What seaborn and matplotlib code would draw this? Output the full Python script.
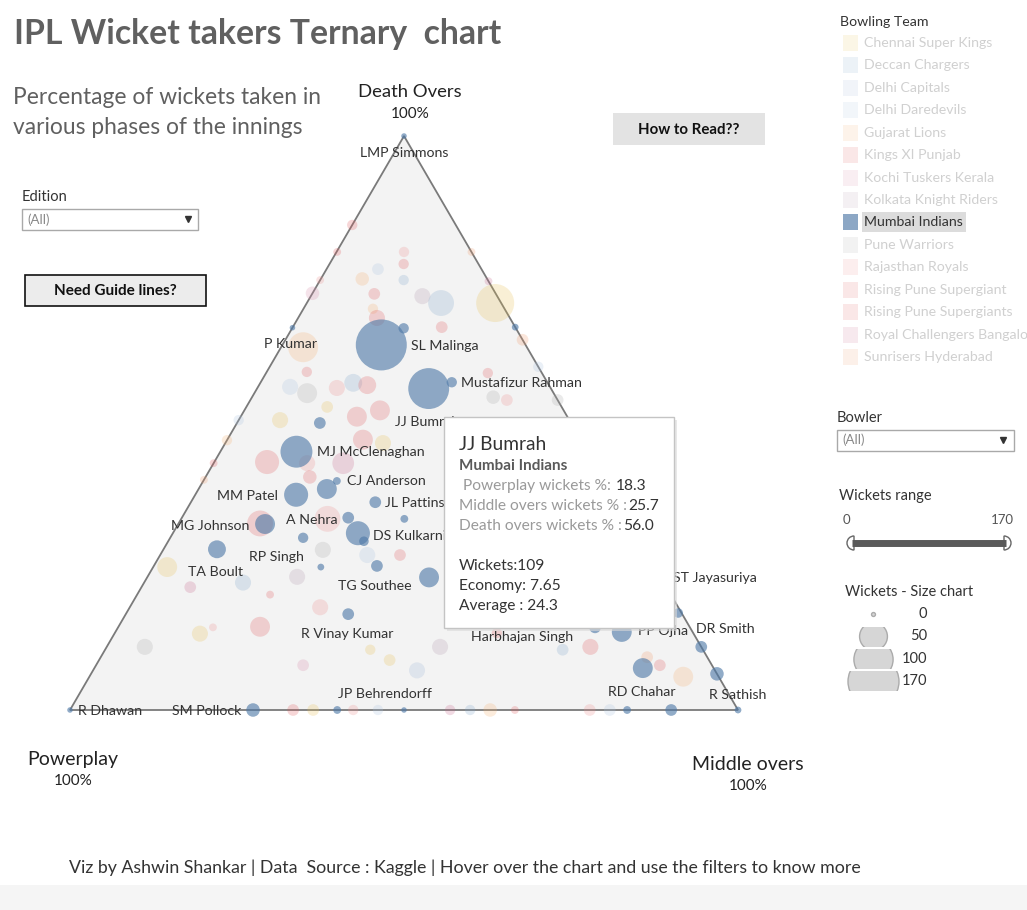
import numpy as np
import pandas as pd
import matplotlib
matplotlib.use("Agg")
import matplotlib.pyplot as plt
import seaborn as sns
from matplotlib.patches import Polygon, Rectangle, Wedge

sns.set_theme(style="white")
plt.rcParams['font.family'] = ['Lato', 'DejaVu Sans']

# ================================
# DATA
# ================================
teams = ['Chennai Super Kings', 'Deccan Chargers', 'Delhi Capitals', 'Delhi Daredevils',
         'Gujarat Lions', 'Kings XI Punjab', 'Kochi Tuskers Kerala', 'Kolkata Knight Riders',
         'Mumbai Indians', 'Pune Warriors', 'Rajasthan Royals', 'Rising Pune Supergiant',
         'Rising Pune Supergiants', 'Royal Challengers Bangalore', 'Sunrisers Hyderabad']
team_colors = ['#e8c050', '#7ea6cc', '#9fb6d6', '#a9c2e0',
               '#f5b070', '#e15759', '#d68aa8', '#b29aae',
               '#4e79a7', '#a8a8a8', '#ee8c8c', '#e15759',
               '#e15759', '#c8688c', '#f09a6a']

# Mumbai Indians bowlers (highlighted)
mi_bowler = ['LMP Simmons', 'SL Malinga', '', 'Mustafizur Rahman', 'JJ Bumrah', 'P Kumar', '', '',
             'MJ McClenaghan', '', 'CJ Anderson', 'MM Patel', 'JL Pattinson', '', 'MG Johnson',
             'A Nehra', 'RP Singh', 'DS Kulkarni', '', 'TA Boult', '', 'TG Southee', '',
             'R Vinay Kumar', 'Harbhajan Singh', '', 'PP Ojha', 'ST Jayasuriya', 'DR Smith',
             '', '', '', 'RD Chahar', '', 'R Sathish', 'JP Behrendorff', '', 'SM Pollock', 'R Dhawan']
mi_pp = [0, 21.6, 16.8, 14.3, 18.3, 33.4, 0, 37.6,
         43.6, 42.3, 40.1, 47.4, 36.2, 33.3, 54.6,
         41.6, 50.1, 41.5, 41.3, 64.0, 50.0, 41.5, 34.7,
         50.0, 22.3, 14.2, 10.6, 0, 0.5,
         0, 0, 10.6, 16.6, 10.0, 0, 60, 50, 72.6, 100]
mi_mid = [0, 14.8, 16.7, 28.6, 25.7, 0, 33.3, 12.4,
          11.4, 19.2, 20.0, 15.1, 27.6, 33.4, 13.0,
          24.9, 19.9, 27.7, 29.3, 8.0, 25.1, 33.4, 42.2,
          33.3, 57.7, 71.4, 75.8, 79.1, 82.6,
          89.0, 93.7, 82.1, 83.4, 90.0, 100, 40, 50, 27.4, 0]
mi_death = [100, 63.6, 66.5, 57.1, 56.0, 66.6, 66.7, 50.0,
            45.0, 38.5, 39.9, 37.5, 36.2, 33.3, 32.4,
            33.5, 30.0, 30.8, 29.4, 28.0, 24.9, 25.1, 23.1,
            16.7, 20.0, 14.4, 13.6, 20.9, 16.9,
            11.0, 6.3, 7.3, 0, 0, 0, 0, 0, 0, 0]
mi_wkts = [1, 170, 6, 6, 109, 1, 2, 8,
           66, 25, 3, 37, 8, 3, 25,
           8, 6, 37, 5, 20, 2, 8, 25,
           8, 127, 8, 25, 1, 5,
           8, 11, 25, 3, 8, 2, 3, 1, 11, 1]

# other teams (faded in the view)
oth_team = ['KXIP', 'RR', 'KXIP', 'DD', 'DC', 'GL', 'KXIP', 'KKR', 'DC', 'CSK',
            'SRH', 'RCB', 'KXIP', 'RR', 'KTK', 'GL', 'KXIP', 'GL', 'KXIP', 'DD',
            'PW', 'RR', 'DC', 'KXIP', 'CSK', 'RPS', 'KXIP', 'CSK', 'KXIP', 'RR',
            'RCB', 'KXIP', 'KXIP', 'CSK', 'DD', 'GL', 'KXIP', 'SRH', 'KXIP', 'PW',
            'CSK', 'RR', 'CSK', 'RCB', 'DC', 'KXIP', 'KKR', 'RR', 'PW', 'KTK',
            'DCap', 'CSK', 'CSK', 'KKR', 'KXIP', 'RR', 'DD', 'KXIP', 'KXIP', 'CSK',
            'RR', 'DD', 'RCB', 'DC', 'GL', 'KXIP', 'RR', 'DD', 'KXIP', 'DC',
            'KXIP', 'SRH', 'KXIP', 'GL', 'PW', 'RR', 'KXIP', 'KXIP', 'SRH', 'DD', 'PW']
oth_pp = [15.5, 10.1, 11.2, 15.5, 12.6, 18.7, 18.2, 11.2, 9.0, 0.9,
          0, 0, 20.1, 25.1, 27.4, 19.7, 19.9, 33.5, 35.1, 38.9,
          36.9, 32.0, 29.1, 27.2, 35.1, 31.5, 27.5, 43.3, 48.9, 43.0,
          37.6, 43.8, 32.6, 29.9, 49.5, 53.0, 57.0, 59.9, 64.3, 83.3,
          73.9, 71.4, 73.0, 71.3, 63.0, 60.0, 54.4, 53.6, 48.2, 61.2,
          44.6, 47.8, 49.8, 39.1, 55.3, 44.8, 42.0, 37.1, 66.6, 63.6,
          57.6, 53.9, 43.1, 40.1, 37.1, 33.4, 22.2, 19.2, 29.4, 21.0,
          16.6, 9.0, 7.8, 5.3, 9.4, 7.6, 8.1, 11.0, 0, 0, 0]
oth_mid = [0, 10.1, 11.1, 7.7, 12.5, 6.2, 9.3, 16.7, 20.1, 28.2,
           20.2, 25.3, 0.1, 0, 0, 10.4, 11.8, 3.3, 6.0, 4.8,
           7.9, 11.9, 13.9, 16.2, 12.1, 17.4, 20.3, 6.2, 7.9, 14.0,
           19.4, 15.6, 20.3, 23.6, 0, 0, 0, 0, 21.2, 5.7,
           12.8, 14.2, 2.1, 7.3, 14.8, 19.9, 22.4, 28.5, 23.9, 31.0,
           48.5, 43.5, 39.7, 49.9, 12.2, 21.9, 31.0, 35.9, 33.4, 36.4,
           42.4, 46.1, 56.9, 59.9, 62.9, 66.6, 77.8, 80.8, 57.2, 68.5,
           72.4, 81.8, 84.4, 88.9, 36.1, 38.4, 33.2, 22.3, 35.5, 40.2, 46.0]
oth_death = [84.5, 79.8, 77.7, 76.8, 74.9, 75.1, 72.5, 72.1, 70.9, 70.9,
             79.8, 74.7, 79.8, 74.9, 72.6, 69.9, 68.3, 63.2, 58.9, 56.3,
             55.2, 56.1, 57.0, 56.6, 52.8, 51.1, 52.2, 50.5, 43.2, 43.0,
             43.0, 40.6, 47.1, 46.5, 50.5, 47.0, 43.0, 40.1, 14.5, 11.0,
             13.3, 14.4, 24.9, 21.4, 22.2, 20.1, 23.2, 17.9, 27.9, 7.8,
             6.9, 8.7, 10.5, 11.0, 32.5, 33.3, 27.0, 27.0, 0, 0,
             0, 0, 0, 0, 0, 0, 0, 0, 13.4, 10.5,
             11.0, 9.2, 7.8, 5.8, 54.5, 54.0, 58.7, 66.7, 64.5, 59.8, 54.0]
oth_wkts = [6, 6, 6, 8, 6, 11, 8, 16, 43, 94,
            3, 3, 3, 3, 11, 6, 16, 58, 6, 16,
            25, 16, 20, 20, 8, 25, 25, 16, 37, 16,
            30, 11, 25, 16, 6, 6, 3, 3, 25, 16,
            16, 3, 25, 8, 16, 3, 16, 16, 16, 8,
            16, 8, 6, 16, 43, 43, 16, 8, 8, 8,
            6, 6, 6, 6, 11, 3, 8, 8, 6, 8,
            16, 8, 8, 25, 11, 8, 6, 8, 8, 6, 8]

team_code = {'CSK': 'Chennai Super Kings', 'DC': 'Deccan Chargers', 'DCap': 'Delhi Capitals',
             'DD': 'Delhi Daredevils', 'GL': 'Gujarat Lions', 'KXIP': 'Kings XI Punjab',
             'KTK': 'Kochi Tuskers Kerala', 'KKR': 'Kolkata Knight Riders', 'PW': 'Pune Warriors',
             'RR': 'Rajasthan Royals', 'RPS': 'Rising Pune Supergiant',
             'RCB': 'Royal Challengers Bangalore', 'SRH': 'Sunrisers Hyderabad'}

# tooltip (hovered bowler)
tip_name = 'JJ Bumrah'
tip_team = 'Mumbai Indians'
tip_rows = [(' Powerplay wickets %: ', '18.3'), ('Middle overs wickets % :', '25.7'),
            ('Death overs wickets % :', '56.0')]
tip_stats = ['Wickets:109', 'Economy: 7.65', 'Average : 24.3']

size_legend = [0, 50, 100, 170]

# label placement (pixels from the mark, y down)
label_pos = {
    'LMP Simmons': (0, 17, 'center'), 'SL Malinga': (30, 1, 'left'),
    'Mustafizur Rahman': (9, 1, 'left'), 'JJ Bumrah': (-34, 33, 'left'),
    'P Kumar': (-2, 16, 'center'), 'MJ McClenaghan': (21, 0, 'left'),
    'CJ Anderson': (10, 0, 'left'), 'MM Patel': (-18, 1, 'right'),
    'JL Pattinson': (10, 1, 'left'), 'MG Johnson': (-16, 2, 'right'),
    'A Nehra': (-11, 2, 'right'), 'RP Singh': (-27, 19, 'center'),
    'DS Kulkarni': (15, 3, 'left'), 'TA Boult': (-1, 23, 'center'),
    'TG Southee': (-2, 20, 'center'), 'R Vinay Kumar': (-1, 20, 'center'),
    'Harbhajan Singh': (0, 42, 'center'), 'PP Ojha': (16, -1, 'left'),
    'ST Jayasuriya': (5, -12, 'left'), 'DR Smith': (18, 16, 'left'),
    'RD Chahar': (15, -18, 'center'), 'R Sathish': (0, -15, 'center'),
    'JP Behrendorff': (48, -16, 'center'), 'SM Pollock': (-12, 1, 'right'),
    'R Dhawan': (8, 1, 'left'),
}

palette = dict(zip(teams, team_colors))
S_MIN, S_MAX = 8, 1348


def ternary(pp, mid, death):
    pp, mid, death = (np.asarray(v, float) / 100 for v in (pp, mid, death))
    return mid + death / 2, death


mi = pd.DataFrame({'bowler': mi_bowler, 'team': 'Mumbai Indians', 'wickets': mi_wkts})
mi['x'], mi['y'] = ternary(mi_pp, mi_mid, mi_death)
oth = pd.DataFrame({'team': [team_code[t] for t in oth_team], 'wickets': oth_wkts})
oth['x'], oth['y'] = ternary(oth_pp, oth_mid, oth_death)

# ================================
# FIGURE
# ================================
fig = plt.figure(figsize=(10.27, 9.10), dpi=100)
fig.patch.set_facecolor('white')

ax = fig.add_axes([3.2 / 1027, (910 - 767.4) / 910, 801.6 / 1027, 688.8 / 910], zorder=1)
ax.set_xlim(-0.1, 1.1)
ax.set_ylim(-0.1, 1.1)
ax.axis('off')
ax.add_patch(Polygon([(0, 0), (1, 0), (0.5, 1)], closed=True, facecolor='#f3f3f3',
                     edgecolor='#7a7a7a', linewidth=1.3, zorder=0))

sns.scatterplot(data=oth, x='x', y='y', hue='team', palette=palette, size='wickets',
                sizes=(S_MIN, S_MAX), size_norm=(0, 170), alpha=0.24, linewidth=0,
                legend=False, ax=ax, zorder=2)
sns.scatterplot(data=mi, x='x', y='y', hue='team', palette=palette, size='wickets',
                sizes=(S_MIN, S_MAX), size_norm=(0, 170), alpha=0.62, linewidth=0,
                legend=False, ax=ax, zorder=3)

for _, r in mi.iterrows():
    if r['bowler'] in label_pos:
        dx, dy, ha = label_pos[r['bowler']]
        ax.annotate(r['bowler'], (r['x'], r['y']), xytext=(dx * 0.72, -dy * 0.72),
                    textcoords='offset points', ha=ha, va='center', fontsize=10.2,
                    color='#333333', zorder=4)

# overlay in pixel units for the dashboard furniture
ov = fig.add_axes([0, 0, 1, 1], zorder=5)
ov.set_xlim(0, 1027)
ov.set_ylim(910, 0)
ov.axis('off')
ov.patch.set_alpha(0)

ov.text(14, 34, 'IPL Wicket takers Ternary  chart', fontsize=24.3, fontweight='bold',
        color='#606060', va='center')
ov.text(13, 97, 'Percentage of wickets taken in', fontsize=16.4, color='#606060', va='center')
ov.text(13, 127, 'various phases of the innings', fontsize=16.4, color='#606060', va='center')

# corner labels
ov.text(410, 92, 'Death Overs', fontsize=13.3, color='#222222', ha='center', va='center')
ov.text(410, 114, '100%', fontsize=11, color='#222222', ha='center', va='center')
ov.text(73, 759, 'Powerplay', fontsize=14, color='#222222', ha='center', va='center')
ov.text(73, 781, '100%', fontsize=11, color='#222222', ha='center', va='center')
ov.text(748, 764, 'Middle overs', fontsize=14, color='#222222', ha='center', va='center')
ov.text(748, 786, '100%', fontsize=11, color='#222222', ha='center', va='center')

# Edition filter
ov.text(22, 197, 'Edition', fontsize=10.5, color='#333333', va='center')
ov.add_patch(Rectangle((22, 209), 176, 21, facecolor='white', edgecolor='#a9a9a9', lw=1))
ov.text(27, 220, '(All)', fontsize=9.5, color='#888888', va='center')
ov.plot(188, 219, marker='v', ms=4.5, color='#333333')

# buttons
ov.add_patch(Rectangle((25, 275), 181, 31, facecolor='#ececec', edgecolor='#111111', lw=1.2))
ov.text(115.5, 291, 'Need Guide lines?', fontsize=11, fontweight='bold', color='#111111',
        ha='center', va='center')
ov.add_patch(Rectangle((613, 113), 152, 32, facecolor='#e3e3e3', edgecolor='none'))
ov.text(689, 130, 'How to Read??', fontsize=10.8, fontweight='bold', color='#111111',
        ha='center', va='center')

# tooltip
ov.add_patch(Rectangle((447, 420), 230, 211, facecolor='#d9d9d9', edgecolor='none', alpha=0.6))
ov.add_patch(Rectangle((444, 417), 230, 211, facecolor='white', edgecolor='#c4c4c4', lw=1))
ov.text(459, 444, tip_name, fontsize=13.8, color='#333333', va='center')
ov.text(459, 466, tip_team, fontsize=11, fontweight='bold', color='#5a5a5a', va='center')
for i, (lab, val) in enumerate(tip_rows):
    y = 486 + 20 * i
    t = ov.text(459, y, lab, fontsize=11.2, color='#9a9a9a', va='center')
    ov.annotate(val, xy=(1, 0.5), xycoords=t, xytext=(1, 0), textcoords='offset points',
                fontsize=11.2, color='#333333', va='center')
for i, s in enumerate(tip_stats):
    ov.text(459, 566 + 20 * i, s, fontsize=11.2, color='#333333', va='center')

# team legend
ov.text(840, 22, 'Bowling Team', fontsize=10.2, color='#333333', va='center')
for i, (tm, col) in enumerate(zip(teams, team_colors)):
    y = 43 + i * 22.43
    active = tm == 'Mumbai Indians'
    if active:
        ov.add_patch(Rectangle((862, y - 10), 104, 20, facecolor='#dcdcdc', edgecolor='none'))
    ov.add_patch(Rectangle((843, y - 8), 15, 16, facecolor=col,
                           alpha=0.65 if active else 0.14, edgecolor='none'))
    ov.text(864, y, tm, fontsize=10.2, color='#333333' if active else '#d0d0d0', va='center',
            clip_on=True)

# Bowler filter
ov.text(837, 418, 'Bowler', fontsize=10.5, color='#333333', va='center')
ov.add_patch(Rectangle((837, 430), 177, 21, facecolor='white', edgecolor='#a9a9a9', lw=1))
ov.text(842, 440, '(All)', fontsize=9.5, color='#888888', va='center')
ov.plot(1003, 440, marker='v', ms=4.5, color='#333333')

# wickets range slider
ov.text(839, 496, 'Wickets range', fontsize=10.5, color='#333333', va='center')
ov.text(846, 520, '0', fontsize=9.5, color='#555555', va='center', ha='center')
ov.text(1014, 520, '170', fontsize=9.5, color='#555555', va='center', ha='right')
ov.plot([852, 1006], [543, 543], lw=5, color='#5a5a5a', solid_capstyle='butt')
ov.add_patch(Wedge((854, 543), 7, 90, 270, facecolor='white', edgecolor='#666666', lw=1))
ov.add_patch(Wedge((1004, 543), 7, -90, 90, facecolor='white', edgecolor='#666666', lw=1))

# size legend
ov.text(845, 592, 'Wickets - Size chart', fontsize=10.5, color='#333333', va='center')
for i, w in enumerate(size_legend):
    y = 614 + 22.3 * i
    sc = ov.scatter([873], [y], s=S_MIN + (S_MAX - S_MIN) * w / 170, color='#d6d6d6',
                    edgecolors='#ababab', linewidths=1)
    clip = Rectangle((840, y - 9.5), 70, 19, transform=ov.transData)
    sc.set_clip_path(clip)
    ov.text(927, y, str(w), fontsize=10.5, color='#333333', va='center', ha='right')

# footer
ov.text(69, 868, 'Viz by Ashwin Shankar | Data  Source : Kaggle | Hover over the chart and '
        'use the filters to know more', fontsize=12.8, color='#333333', va='center')
ov.add_patch(Rectangle((0, 885), 1027, 25, facecolor='#f5f5f5', edgecolor='none'))

fig.savefig('out.png', dpi=100)
